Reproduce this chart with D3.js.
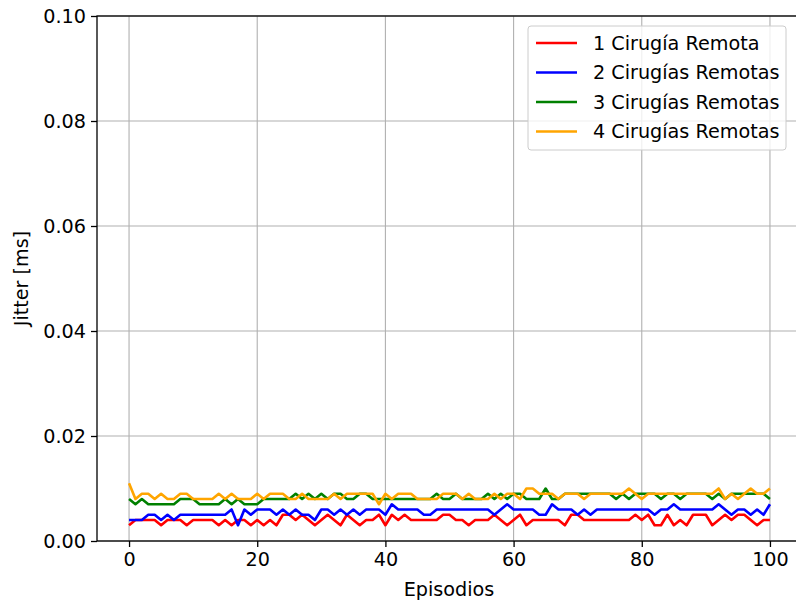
<!DOCTYPE html>
<html><head><meta charset="utf-8">
<script src="https://cdn.jsdelivr.net/npm/d3@7"></script>
<style>body{margin:0;background:#fff}svg{display:block}text{font-family:"DejaVu Sans",sans-serif}</style>
</head><body><svg id="c" width="796" height="605"></svg>
<script>
const episodes = d3.range(0, 101);
const seriesNames = ["1 Cirugía Remota", "2 Cirugías Remotas", "3 Cirugías Remotas", "4 Cirugías Remotas"];
const seriesColors = ["#ff0000", "#0000ff", "#008000", "#ffa500"];
// values in thousandths of ms (multiplied by 0.001 below)
const s1 = [3,4,4,4,4,3,4,4,4,3, 4,4,4,4,3,4,3,4,4,3, 4,3,4,3,5,5,4,5,4,3, 4,5,4,3,5,4,3,4,4,5, 3,5,4,5,4,4,4,4,4,5, 5,4,4,3,4,4,4,5,4,3, 4,5,3,4,4,4,4,4,3,5, 5,4,4,4,4,4,4,4,4,5, 4,5,3,3,5,3,4,3,5,5, 5,3,4,5,4,5,5,4,3,4, 4];
const s2 = [4,4,4,5,5,4,5,4,5,5, 5,5,5,5,5,5,6,3,6,5, 6,6,6,5,6,5,6,5,5,4, 6,6,5,6,5,6,5,6,6,6, 5,7,6,6,6,6,5,5,6,6, 6,6,6,6,6,6,6,5,6,7, 6,6,6,6,5,5,7,6,6,6, 5,6,5,6,6,6,6,6,6,6, 6,6,5,6,6,7,6,6,6,6, 6,6,7,6,5,6,6,5,6,5, 7];
const s3 = [8,7,8,7,7,7,7,7,8,8, 8,7,7,7,7,8,7,8,7,7, 7,8,8,8,8,8,9,8,9,8, 9,8,9,9,8,8,9,9,8,8, 8,8,8,8,8,8,8,8,9,8, 8,9,8,8,8,8,9,8,9,8, 9,9,8,8,8,10,8,8,9,9, 9,9,9,9,9,9,8,9,8,9, 9,9,9,8,9,9,8,9,9,9, 9,8,9,8,9,9,9,9,9,9, 8];
const s4 = [11,8,9,9,8,9,8,8,9,9, 8,8,8,8,9,8,9,8,8,8, 9,8,9,9,9,8,8,9,8,8, 8,8,9,8,9,9,9,9,9,7, 9,8,9,9,9,8,8,8,8,9, 9,9,8,9,8,8,8,9,8,9, 9,8,10,10,9,9,9,8,9,9, 9,8,9,9,9,9,9,9,10,9, 8,9,9,9,9,9,9,9,9,9, 9,9,10,8,9,8,9,10,9,9, 10];
const yTicks = [0, 0.02, 0.04, 0.06, 0.08, 0.10];
const xTicks = [0, 20, 40, 60, 80, 100];

const FS = 19.2;
const svg = d3.select("#c");
const L = 97, R = 802, T = 16, B = 541;
const x = d3.scaleLinear().domain([-5, 105]).range([L, R]);
const y = d3.scaleLinear().domain([0, 0.1]).range([B, T]);

// grid
svg.append("g").selectAll("line").data(xTicks).join("line")
  .attr("x1", d => x(d)).attr("x2", d => x(d)).attr("y1", T).attr("y2", B)
  .attr("stroke", "#b0b0b0").attr("stroke-width", 1.1);
svg.append("g").selectAll("line").data(yTicks).join("line")
  .attr("x1", L).attr("x2", R).attr("y1", d => y(d)).attr("y2", d => y(d))
  .attr("stroke", "#b0b0b0").attr("stroke-width", 1.1);

// lines
const all = [s1, s2, s3, s4];
const line = d3.line().x((d, i) => x(episodes[i])).y(d => y(d * 0.001));
all.forEach((s, k) => {
  svg.append("path").datum(s).attr("d", line).attr("fill", "none")
    .attr("stroke", seriesColors[k]).attr("stroke-width", 2.6).attr("stroke-linejoin", "round");
});

// spines
svg.append("rect").attr("x", L).attr("y", T).attr("width", R - L).attr("height", B - T)
  .attr("fill", "none").attr("stroke", "#000").attr("stroke-width", 1.3);

// axes
const xAxis = svg.append("g").attr("transform", `translate(0,${B})`)
  .call(d3.axisBottom(x).tickValues(xTicks).tickSize(6).tickPadding(5).tickFormat(d3.format("d")));
const yAxis = svg.append("g").attr("transform", `translate(${L},0)`)
  .call(d3.axisLeft(y).tickValues(yTicks).tickSize(6).tickPadding(5).tickFormat(d3.format(".2f")));
[xAxis, yAxis].forEach(a => {
  a.select(".domain").remove();
  a.selectAll("line").attr("stroke", "#000").attr("stroke-width", 1.3);
  a.selectAll("text").attr("font-size", FS).attr("fill", "#000").attr("font-family", "DejaVu Sans");
});

svg.append("text").attr("x", 449).attr("y", 596).attr("text-anchor", "middle")
  .attr("font-size", FS).text("Episodios");
svg.append("text").attr("transform", `translate(28,${(T + B) / 2}) rotate(-90)`).attr("text-anchor", "middle")
  .attr("font-size", FS).text("Jitter [ms]");

// legend
const lg = svg.append("g");
lg.append("rect").attr("x", 528).attr("y", 26).attr("width", 258).attr("height", 124).attr("rx", 3)
  .attr("fill", "rgba(255,255,255,0.8)").attr("stroke", "#cccccc").attr("stroke-width", 1);
seriesNames.forEach((n, k) => {
  const yy = 43 + k * 29.5;
  lg.append("line").attr("x1", 536).attr("x2", 577).attr("y1", yy).attr("y2", yy)
    .attr("stroke", seriesColors[k]).attr("stroke-width", 2.6);
  lg.append("text").attr("x", 593).attr("y", yy + 6.8).attr("font-size", FS).text(n);
});
</script></body></html>
